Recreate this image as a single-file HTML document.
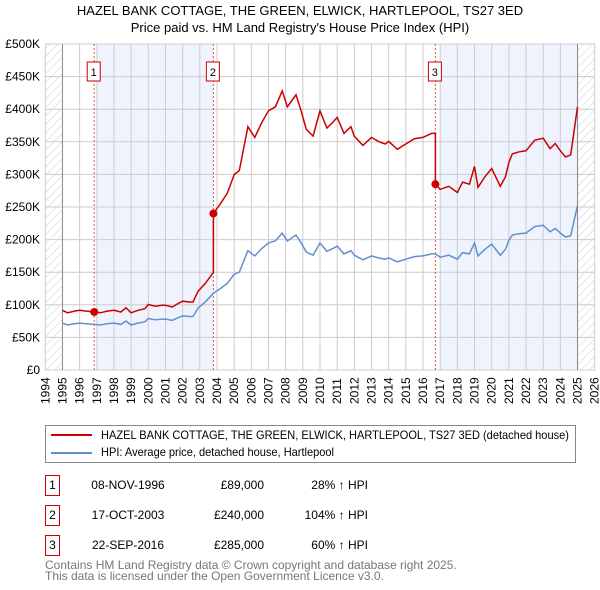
<!DOCTYPE html>
<html><head><meta charset="utf-8"><style>
body{margin:0;background:#fff;font-family:"Liberation Sans","DejaVu Sans",sans-serif;}
#wrap{position:relative;width:600px;height:590px;overflow:hidden}
.t{position:absolute;font-size:12px;color:#000;white-space:nowrap}
</style></head><body><div id="wrap">
<div class="t" style="left:0;width:600px;text-align:center;top:2px;font-size:13px;line-height:17px">HAZEL BANK COTTAGE, THE GREEN, ELWICK, HARTLEPOOL, TS27 3ED<br>Price paid vs. HM Land Registry's House Price Index (HPI)</div>
<svg id="c" width="600" height="410" style="position:absolute;left:0;top:0">
<defs><pattern id="h" width="6" height="6" patternUnits="userSpaceOnUse" patternTransform="rotate(45)"><line x1="0" y1="0" x2="0" y2="6" stroke="#ccc" stroke-width="1"/></pattern></defs>
</svg>
<div style="position:absolute;left:45px;top:425px;width:529px;height:36px;border:1px solid #888;">
<div style="position:absolute;left:5px;top:8px;width:41px;height:2px;background:#cc0000"></div>
<div class="t" style="left:55px;top:2px;transform:scaleX(0.92);transform-origin:0 0">HAZEL BANK COTTAGE, THE GREEN, ELWICK, HARTLEPOOL, TS27 3ED (detached house)</div>
<div style="position:absolute;left:5px;top:26px;width:41px;height:2px;background:#6090d0"></div>
<div class="t" style="left:55px;top:19px;transform:scaleX(0.92);transform-origin:0 0">HPI: Average price, detached house, Hartlepool</div>
</div>
<div id="tbl"></div>
<div class="t" style="left:45px;top:560px;color:#777;line-height:11px;font-size:12px">Contains HM Land Registry data © Crown copyright and database right 2025.<br>This data is licensed under the Open Government Licence v3.0.</div>
</div>
<script>
const hpiYears=[1995,1995.3,1995.7,1996,1996.4,1996.85,1997.2,1997.6,1998,1998.4,1998.7,1999,1999.4,1999.8,2000,2000.4,2000.8,2001,2001.4,2001.8,2002,2002.4,2002.6,2002.9,2003.3,2003.8,2004.2,2004.6,2005,2005.3,2005.8,2006.2,2006.6,2007,2007.4,2007.8,2008.1,2008.6,2008.9,2009.2,2009.6,2010,2010.4,2010.8,2011,2011.4,2011.8,2012,2012.5,2013,2013.4,2013.8,2014,2014.5,2015,2015.5,2016,2016.5,2016.72,2017,2017.5,2018,2018.3,2018.7,2019,2019.2,2019.6,2020,2020.5,2020.8,2021,2021.2,2021.6,2022,2022.5,2023,2023.4,2023.7,2024,2024.3,2024.6,2025];
const hpiValues=[72,69,71,72,71,70,69,71,72,70,75,69,72,74,79,77,78,78,76,81,83,82,82,95,104,118,125,133,147,150,183,175,186,195,198,210,198,207,195,181,176,195,182,187,190,178,183,176,169,175,172,170,172,166,170,174,175,178,178,173,176,170,180,178,195,175,185,193,176,185,199,207,209,210,220,222,212,217,210,204,206,252];
const saleYears=[1996.85,2003.79,2016.72];
const salePrices=[89,240,285];
const saleLabels=["1","2","3"];
const saleDates=["08-NOV-1996","17-OCT-2003","22-SEP-2016"];
const salePriceText=["£89,000","£240,000","£285,000"];
const saleHpiText=["28% ↑ HPI","104% ↑ HPI","60% ↑ HPI"];
const yTicks=[0,50,100,150,200,250,300,350,400,450,500];
const yTickLabels=["£0","£50K","£100K","£150K","£200K","£250K","£300K","£350K","£400K","£450K","£500K"];
const xTicks=[1994,1995,1996,1997,1998,1999,2000,2001,2002,2003,2004,2005,2006,2007,2008,2009,2010,2011,2012,2013,2014,2015,2016,2017,2018,2019,2020,2021,2022,2023,2024,2025,2026];

const X0=45.3,X1=594.7,Y0=370,Y1=44;
const xs=y=>X0+(y-1994)/(2026-1994)*(X1-X0);
const ys=v=>Y0-v/500*(Y0-Y1);
const svg=document.getElementById('c');
const NS='http://www.w3.org/2000/svg';
function mk(t,a){const e=document.createElementNS(NS,t);for(const k in a)e.setAttribute(k,a[k]);svg.appendChild(e);return e;}
function interp(y){for(let i=0;i<hpiYears.length-1;i++){if(y<=hpiYears[i+1]){const f=(y-hpiYears[i])/(hpiYears[i+1]-hpiYears[i]);return hpiValues[i]+f*(hpiValues[i+1]-hpiValues[i]);}}return hpiValues[hpiValues.length-1];}
let e;
e=mk('rect',{x:xs(1997),y:Y1,width:xs(saleYears[1])-xs(1997),height:Y0-Y1,fill:'#eef3fd'});

e=mk('rect',{x:xs(2017),y:Y1,width:xs(2025)-xs(2017),height:Y0-Y1,fill:'#eef3fd'});

e=mk('rect',{x:X0,y:Y1,width:xs(1995)-X0,height:Y0-Y1,fill:'url(#h)'});

e=mk('rect',{x:xs(2025),y:Y1,width:X1-xs(2025),height:Y0-Y1,fill:'url(#h)'});

yTicks.forEach((v,i)=>{
 e=mk('line',{x1:X0,x2:X1,y1:ys(v),y2:ys(v),stroke:'#ccc'});
 
 e=mk('text',{x:40,y:ys(v)+4,'text-anchor':'end','font-size':12});e.textContent=yTickLabels[i];
 
});
xTicks.forEach(y=>{
 e=mk('line',{x1:xs(y),x2:xs(y),y1:Y1,y2:Y0,stroke:'#ccc'});
 
 e=mk('text',{transform:`translate(${xs(y)+4},404) rotate(-90)`,'font-size':12});e.textContent=y;
 
});
[1995,2025].forEach(y=>{e=mk('line',{x1:xs(y),x2:xs(y),y1:Y1,y2:Y0,stroke:'#888'});
 });
saleYears.forEach((y,i)=>{
 e=mk('line',{x1:xs(y),x2:xs(y),y1:Y1,y2:Y0,stroke:'#e05050','stroke-dasharray':'2,2'});
 
 e=mk('rect',{x:xs(y)-7,y:62,width:13,height:19,fill:'#fff',stroke:'#cc0000'});
 
 e=mk('text',{x:xs(y)-0.5,y:76,'text-anchor':'middle','font-size':11});e.textContent=saleLabels[i];
 
});
let hp='';hpiYears.forEach((y,i)=>{hp+=(i?'L':'M')+xs(y).toFixed(1)+','+ys(hpiValues[i]).toFixed(1);});
e=mk('path',{d:hp,fill:'none',stroke:'#6090d0','stroke-width':1.5});

let rp='';
hpiYears.forEach((y,i)=>{
 let k=0;for(let j=0;j<saleYears.length;j++)if(y>=saleYears[j])k=j;
 if(i>0&&hpiYears[i-1]<saleYears[k]&&y>=saleYears[k]&&k>0){
  const sy=saleYears[k];const pk=salePrices[k-1]/interp(saleYears[k-1]);
  rp+='L'+xs(sy).toFixed(1)+','+ys(interp(sy)*pk).toFixed(1);
  rp+='L'+xs(sy).toFixed(1)+','+ys(salePrices[k]).toFixed(1);
 }
 const r=salePrices[k]/interp(saleYears[k]);
 rp+=(i?'L':'M')+xs(y).toFixed(1)+','+ys(hpiValues[i]*r).toFixed(1);
});
e=mk('path',{d:rp,fill:'none',stroke:'#cc0000','stroke-width':1.5});

saleYears.forEach((y,i)=>{
 e=mk('circle',{cx:xs(y),cy:ys(salePrices[i]),r:4,fill:'#cc0000'});
 
});
const tbl=document.getElementById('tbl');
saleYears.forEach((y,i)=>{
 const top=475+i*30;
 const row=document.createElement('div');
 
 
 row.innerHTML=`<div style="position:absolute;left:45px;top:${top}px;width:13px;height:19px;border:1px solid #cc0000;font-size:12px;text-align:center;line-height:19px">${saleLabels[i]}</div>
 <div class="t" style="left:78px;width:100px;text-align:center;top:${top+3}px">${saleDates[i]}</div>
 <div class="t" style="left:180px;width:84px;text-align:right;top:${top+3}px">${salePriceText[i]}</div>
 <div class="t" style="left:280px;width:88px;text-align:right;top:${top+3}px">${saleHpiText[i]}</div>`;
 tbl.appendChild(row);
});
</script></body></html>
